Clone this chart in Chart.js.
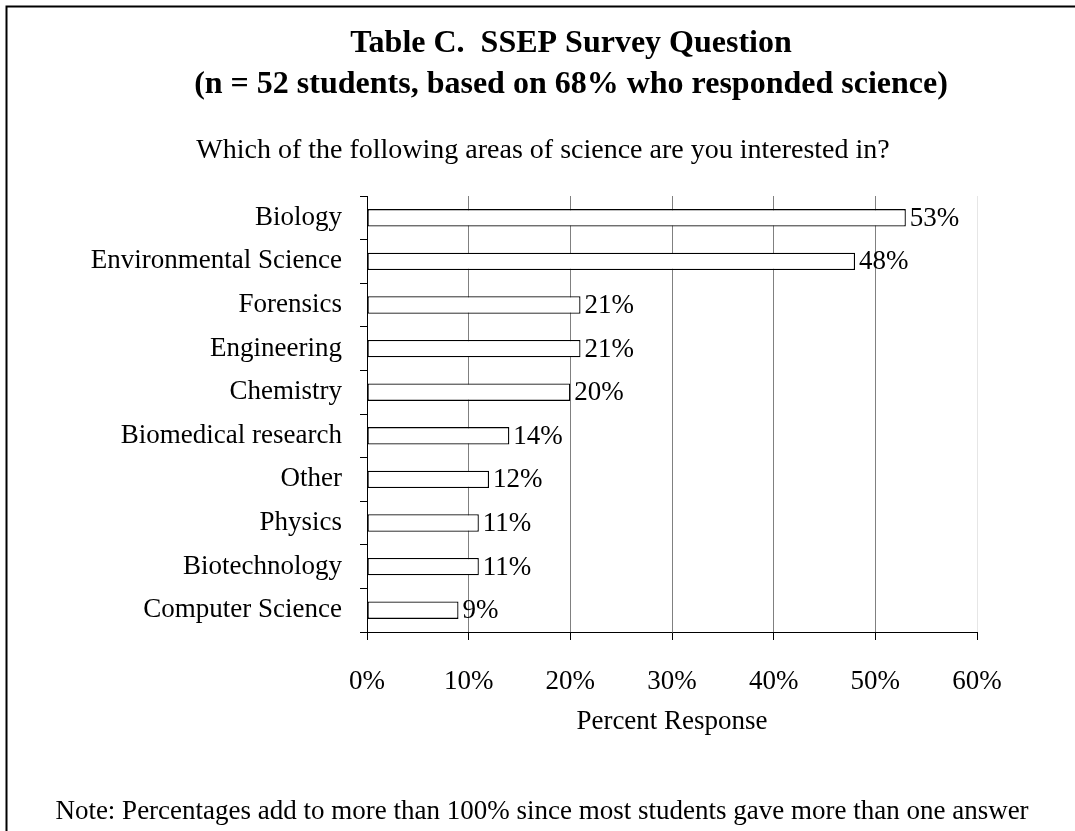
<!DOCTYPE html>
<html>
<head>
<meta charset="utf-8">
<script src="https://cdn.jsdelivr.net/npm/chart.js@4"></script>
<style>
  html, body { margin: 0; padding: 0; background: #fff; }
  #wrap { width: 1075px; height: 831px; }
</style>
</head>
<body>
<div id="wrap"><canvas id="c" width="1075" height="831"></canvas></div>
<script>
const categories = ["Biology", "Environmental Science", "Forensics", "Engineering", "Chemistry",
  "Biomedical research", "Other", "Physics", "Biotechnology", "Computer Science"];
const percentValues = [53, 48, 21, 21, 20, 14, 12, 11, 11, 9];
const xTickValues = [0, 10, 20, 30, 40, 50, 60];
const titleLines = ["Table C.  SSEP Survey Question", "(n = 52 students, based on 68% who responded science)"];
const subtitleText = "Which of the following areas of science are you interested in?";
const noteText = "Note: Percentages add to more than 100% since most students gave more than one answer";
const axisTitle = "Percent Response";

const FONT = '"Liberation Serif", "Times New Roman", serif';

const decorPlugin = {
  id: 'decor',
  beforeDraw(chart) {
    const ctx = chart.ctx;
    ctx.save();
    ctx.fillStyle = '#fff';
    ctx.fillRect(0, 0, chart.width, chart.height);
    ctx.strokeStyle = '#000';
    ctx.lineWidth = 2;
    ctx.beginPath();
    ctx.moveTo(6.5, chart.height + 5);
    ctx.lineTo(6.5, 6.5);
    ctx.lineTo(chart.width + 5, 6.5);
    ctx.stroke();
    ctx.fillStyle = '#000';
    ctx.textAlign = 'center';
    ctx.textBaseline = 'alphabetic';
    ctx.font = 'bold 32px ' + FONT;
    ctx.fillText(titleLines[0], 571, 52);
    ctx.fillText(titleLines[1], 571, 93);
    ctx.font = '28px ' + FONT;
    ctx.fillText(subtitleText, 543, 158);
    ctx.font = '27px ' + FONT;
    ctx.fillText(noteText, 542, 819);
    ctx.restore();
  },
  afterDatasetsDraw(chart) {
    const ctx = chart.ctx;
    const meta = chart.getDatasetMeta(0);
    ctx.save();
    ctx.fillStyle = '#000';
    ctx.font = '27px ' + FONT;
    ctx.textAlign = 'left';
    ctx.textBaseline = 'middle';
    meta.data.forEach((bar, i) => {
      ctx.fillText(percentValues[i] + '%', bar.x + 4, bar.y + 1);
    });
    ctx.restore();
  }
};

new Chart(document.getElementById('c'), {
  type: 'bar',
  data: {
    labels: categories,
    datasets: [{
      data: percentValues,
      backgroundColor: '#fff',
      borderColor: '#000',
      borderWidth: 1.3,
      borderSkipped: false,
      barPercentage: 0.4,
      categoryPercentage: 1.0
    }]
  },
  options: {
    indexAxis: 'y',
    responsive: false,
    animation: false,
    devicePixelRatio: 1,
    layout: { padding: { left: 0, right: 98, top: 196, bottom: 79 } },
    plugins: {
      legend: { display: false },
      tooltip: { enabled: false },
      title: { display: false }
    },
    scales: {
      y: {
        afterFit(s) { s.width = 367; },
        grid: {
          offset: true,
          drawOnChartArea: false,
          color: '#000',
          tickColor: '#000',
          tickLength: 7,
          lineWidth: 1
        },
        border: { display: true, color: '#000', width: 1 },
        ticks: {
          color: '#000',
          padding: 18,
          font: { family: FONT, size: 27, lineHeight: 1.2 }
        }
      },
      x: {
        min: xTickValues[0],
        max: xTickValues[xTickValues.length - 1],
        afterFit(s) { s.height = 120; },
        afterBuildTicks(s) { s.ticks = xTickValues.map(v => ({ value: v })); },
        grid: {
          color: (c) => (c.tick && c.tick.value === 60) ? '#e6e6e6' : '#808080',
          tickColor: '#000',
          tickLength: 8,
          lineWidth: 1
        },
        border: { display: true, color: '#000', width: 1 },
        ticks: {
          color: '#000',
          padding: 26,
          maxRotation: 0,
          font: { family: FONT, size: 27, lineHeight: 1.2 },
          callback: (v) => v + '%'
        },
        title: {
          display: true,
          text: axisTitle,
          color: '#000',
          font: { family: FONT, size: 27, lineHeight: 1.2 },
          padding: { top: 0, bottom: 14 }
        }
      }
    }
  },
  plugins: [decorPlugin]
});
</script>
</body>
</html>
